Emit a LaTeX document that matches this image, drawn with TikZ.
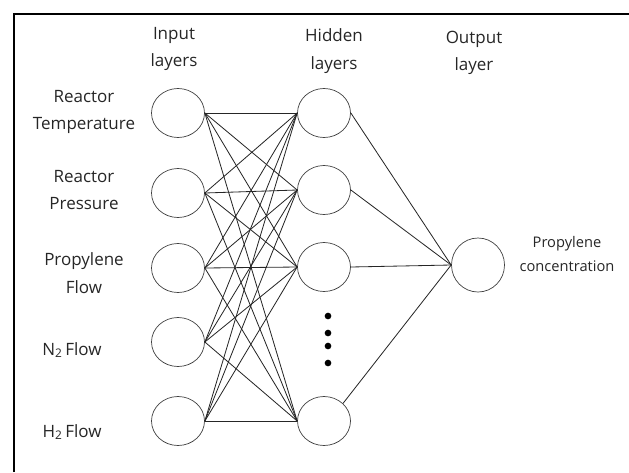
\documentclass[tikz,border=0pt]{standalone}
\usepackage{fontspec}
\setmainfont{Open Sans}
\usetikzlibrary{shapes.geometric}
\tikzstyle{every node} = [
		font = \fontsize{14.5}{23.5}\selectfont,
		text = black!85
	]
\tikzstyle{neuron} = [
		ellipse,
		draw = black!75,
		line width = .6pt,
		minimum width = 1.59cm,
		minimum height = 1.47cm,
		inner sep = 0pt
	]
\tikzstyle{caption} = [
		align = center,
		inner sep = 0pt
	]
\tikzstyle{link} = [
		draw = black!85,
		line width = .7pt
	]

\begin{document}
\begin{tikzpicture}[x = .03cm, y = -.03cm]

		\useasboundingbox (0,0) rectangle (629,472);
		\draw [line width = .08cm] (14,472) -- (14,14) -- (629,14);

		%------------------------------Layers------------------------------
		\node [neuron] (in1) at (178,113) {};
		\node [neuron] (in2) at (178,193) {};
		\node [neuron] (in3) at (178,268) {};
		\node [neuron] (in4) at (178,342) {};
		\node [neuron] (in5) at (178,421) {};

		\node [neuron] (hid1) at (324,113) {};
		\node [neuron] (hid2) at (324,190) {};
		\node [neuron] (hid3) at (324,267) {};
		\node [neuron] (hid4) at (324,421) {};

		\node [neuron, minimum height = 1.62cm] (out) at (478,265) {};

		\foreach \y in {316,333,346,363}
			\fill (328,\y) circle (.1cm);

		%------------------------------Links------------------------------
		\foreach \i in {1,...,5}
			\foreach \j in {1,...,4}
				\draw [link] (in\i.east) -- (hid\j.west);
		\draw [link] (hid1.east) -- (out.west);
		\draw [link] (hid2.east) -- (out.west);
		\draw [link] (hid3.east) -- (out.west);
		\draw [link] (hid4.north east) -- (out.west);

		%------------------------------Labels------------------------------
		\node [caption] (inputcap) at (174,49) {Input\\layers};
		\node [caption] (hiddencap) at (334,51) {Hidden\\layers};
		\node [caption] (outputcap) at (474,53) {Output\\layer};

		\node [caption] (temp) at (84,112) {Reactor\\Temperature};
		\node [caption] (press) at (84,190) {Reactor\\Pressure};
		\node [caption] (propflow) at (84,273) {Propylene\\Flow};
		\node [caption] (ntwo) at (72,350) {N\textsubscript{2}\,Flow};
		\node [caption] (htwo) at (72,432) {H\textsubscript{2}\,Flow};
		\node [caption, font = \fontsize{12.5}{20}\selectfont] (conc) at (567,254) {Propylene\\concentration};

	\end{tikzpicture}
\end{document}
